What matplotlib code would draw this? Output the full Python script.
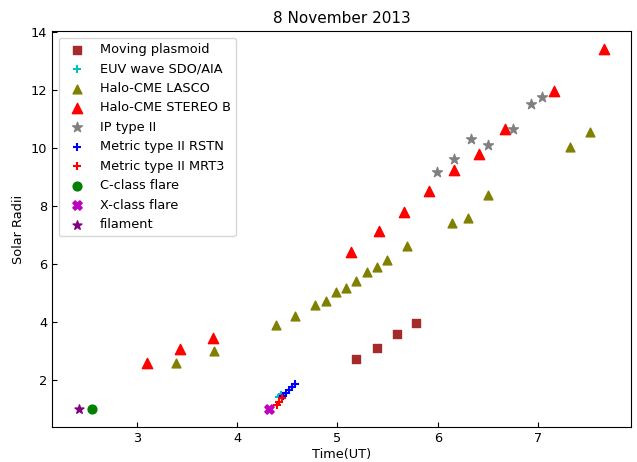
import matplotlib
matplotlib.use("Agg")
import matplotlib.pyplot as plt

plt.rcParams['font.size'] = 9.3

# Moving plasmoid
plasmoid_t = [5.19, 5.39, 5.59, 5.78]
plasmoid_r = [2.71, 3.10, 3.58, 3.97]

# EUV wave SDO/AIA
euv_t = [4.42, 4.44]
euv_r = [1.40, 1.47]

# Halo-CME LASCO
lasco_t = [3.39, 3.77, 4.39, 4.58, 4.78, 4.89, 4.99, 5.09, 5.19, 5.29, 5.39,
           5.49, 5.69, 6.14, 6.30, 6.50, 7.32, 7.52]
lasco_r = [2.60, 2.99, 3.91, 4.22, 4.59, 4.73, 5.03, 5.17, 5.41, 5.72, 5.89,
           6.15, 6.62, 7.40, 7.60, 8.38, 10.05, 10.55]

# Halo-CME STEREO B
stereo_t = [3.10, 3.43, 3.76, 5.14, 5.41, 5.66, 5.91, 6.16, 6.41, 6.67, 7.16, 7.66]
stereo_r = [2.60, 3.05, 3.44, 6.42, 7.12, 7.80, 8.53, 9.25, 9.78, 10.65, 11.95, 13.40]

# IP type II
ip_t = [5.99, 6.16, 6.33, 6.50, 6.75, 6.93, 7.04]
ip_r = [9.18, 9.63, 10.30, 10.10, 10.65, 11.50, 11.75]

# Metric type II RSTN
rstn_t = [4.46, 4.49, 4.52, 4.55, 4.58]
rstn_r = [1.45, 1.55, 1.65, 1.75, 1.85]

# Metric type II MRT3
mrt3_t = [4.40, 4.42, 4.45]
mrt3_r = [1.15, 1.25, 1.36]

# flares and filament
cflare_t, cflare_r = [2.55], [1.0]
xflare_t, xflare_r = [4.32], [1.0]
fil_t, fil_r = [2.42], [1.0]

fig, ax = plt.subplots(figsize=(6.37, 4.62), dpi=100)
fig.subplots_adjust(left=0.082, right=0.99, top=0.932, bottom=0.076)

ax.scatter(plasmoid_t, plasmoid_r, marker='s', color='brown', s=40, label='Moving plasmoid')
ax.scatter(euv_t, euv_r, marker='+', color='c', s=40, label='EUV wave SDO/AIA')
ax.scatter(lasco_t, lasco_r, marker='^', color='olive', s=40, label='Halo-CME LASCO')
ax.scatter(stereo_t, stereo_r, marker='^', color='r', s=55, label='Halo-CME STEREO B')
ax.scatter(ip_t, ip_r, marker='*', color='gray', s=55, label='IP type II')
ax.scatter(rstn_t, rstn_r, marker='+', color='b', s=40, label='Metric type II RSTN')
ax.scatter(mrt3_t, mrt3_r, marker='+', color='r', s=40, label='Metric type II MRT3')
ax.scatter(cflare_t, cflare_r, marker='o', color='g', s=40, label='C-class flare')
ax.scatter(xflare_t, xflare_r, marker='X', color='m', s=45, label='X-class flare')
ax.scatter(fil_t, fil_r, marker='*', color='purple', s=45, label='filament')

ax.tick_params(direction='in')
ax.set_xlabel('Time(UT)', labelpad=2)
ax.set_ylabel('Solar Radii')
ax.set_title('8 November 2013', fontsize=11)
ax.legend(loc='upper left')

plt.savefig('out.png')
